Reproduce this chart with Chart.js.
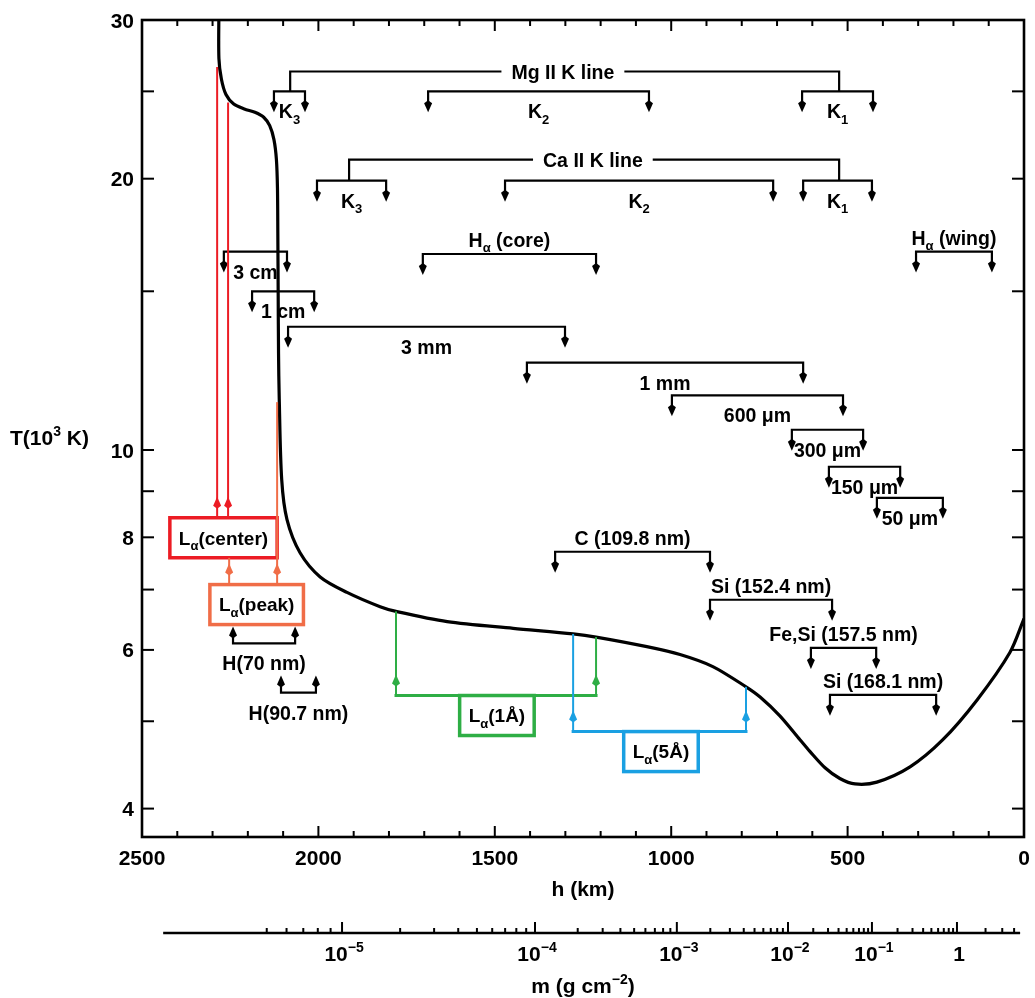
<!DOCTYPE html>
<html>
<head>
<meta charset="utf-8">
<script src="https://cdn.jsdelivr.net/npm/chart.js@4.4.1/dist/chart.umd.min.js"></script>
<style>
html,body{margin:0;padding:0;background:#fff;}
#wrap{width:1035px;height:998px;position:relative;}
</style>
</head>
<body>
<div id="wrap"><canvas id="c" width="1035" height="998"></canvas></div>
<script>
// ---------------- DATA ----------------
// Temperature profile: height h (km) and T (10^3 K)
const heightKm = [2282, 2282, 2275, 2262, 2240, 2210, 2180, 2155, 2138, 2126, 2119, 2116, 2115, 2114, 2113, 2111, 2104, 2089, 2052, 1995, 1919, 1825, 1780, 1635, 1448, 1278, 1213, 1069, 975, 882, 788, 748, 692, 635, 607, 564, 522, 479, 417, 323, 230, 133, 40, 0];
const temperatureKK = [31, 27.2, 25.8, 24.8, 24.2, 23.9, 23.7, 23.4, 22.9, 22.1, 21.0, 19.5, 17.4, 14.9, 12.8, 11.4, 9.27, 8.37, 7.69, 7.23, 6.95, 6.70, 6.62, 6.45, 6.34, 6.25, 6.20, 6.05, 5.93, 5.75, 5.46, 5.32, 5.07, 4.77, 4.63, 4.44, 4.32, 4.26, 4.28, 4.45, 4.77, 5.28, 5.96, 6.5];

// Axis ticks
const hTicks = [2500, 2000, 1500, 1000, 500, 0];
const tTicks = [4, 5, 6, 7, 8, 9, 10, 15, 20, 25, 30];
const tTickLabels = [4, 6, 8, 10, 20, 30];
// Column mass axis: height (km) where m = 10^exp
const mDecadeExp = [-6, -5, -4, -3, -2, -1, 0, 1];
const mDecadeHeight = [2642, 1933, 1386, 984, 669, 431, 190, -79];
const mLabeledExp = [-5, -4, -3, -2, -1, 0];

// Line groups (Mg II K, Ca II K)
const groupNames = ['Mg II K line', 'Ca II K line'];
const groupLeftH = [2080, 1913];
const groupRightH = [524, 524];
const groupLabelH = [1307, 1222];
const groupTopT = [26.3, 21.0];
const groupBaseT = [25.0, 19.9];

// Formation-height brackets (arrows pointing down)
const bracketLabels = ['K_{3}', 'K_{2}', 'K_{1}', 'K_{3}', 'K_{2}', 'K_{1}', 'H_{α} (core)', 'H_{α} (wing)', '3 cm', '1 cm', '3 mm', '1 mm', '600 μm', '300 μm', '150 μm', '50 μm', 'C (109.8 nm)', 'Si (152.4 nm)', 'Fe,Si (157.5 nm)', 'Si (168.1 nm)'];
const bracketH1 = [2126, 1689, 629, 2004, 1471, 626, 1704, 306, 2268, 2188, 2086, 1409, 998, 658, 553, 417, 1329, 890, 604, 550];
const bracketH2 = [2038, 1063, 428, 1808, 711, 431, 1213, 91, 2089, 2012, 1301, 626, 513, 456, 351, 230, 890, 544, 419, 249];
const bracketT = [25.0, 25.0, 25.0, 19.9, 19.9, 19.9, 16.5, 16.6, 16.6, 15.0, 13.7, 12.5, 11.5, 10.53, 9.58, 8.85, 7.71, 6.82, 6.03, 5.35];

// Brackets with arrows pointing up
const upBracketLabels = ['H(70 nm)', 'H(90.7 nm)'];
const upBracketH1 = [2242, 2106];
const upBracketH2 = [2066, 2007];
const upBracketT = [6.10, 5.38];

// Lyman alpha markers
const lyaLabels = ['L_{α}(center)', 'L_{α}(peak)', 'L_{α}(1Å)', 'L_{α}(5Å)'];
const lyaLineH = [[2287, 2256], [2253, 2117], [1780, 1213], [1278, 788]];
const lyaLineTopT = [[26.6, 24.3], [7.59, 11.3], [6.62, 6.20], [6.25, 5.46]];
const lyaBaseT = [8.41, 7.09, 5.34, 4.87];
const lyaBoxH = [2269, 2175, 1494, 1029];

// ---------------- STYLE ----------------
const FONT = '"Liberation Sans", Arial, Helvetica, sans-serif';
const TICK_FS = 21, ANN_FS = 19.5, BOX_FS = 19;
const LYA_COLORS = ['#ec1c24', '#f06d47', '#2eae45', '#1aa0e2'];
const LABEL_ABOVE = new Set(['H_{α} (core)', 'H_{α} (wing)', 'C (109.8 nm)', 'Si (152.4 nm)', 'Fe,Si (157.5 nm)', 'Si (168.1 nm)']);
const M_AXIS_Y = 933, M_AXIS_FROM_H = 2440, M_AXIS_TO_H = 11;

function richParse(s) {
  const segs = []; let buf = ''; let i = 0;
  while (i < s.length) {
    if ((s[i] === '_' || s[i] === '^') && s[i + 1] === '{') {
      if (buf) { segs.push({ t: buf, m: 0 }); buf = ''; }
      const j = s.indexOf('}', i);
      segs.push({ t: s.slice(i + 2, j), m: s[i] === '_' ? 1 : 2 });
      i = j + 1;
    } else { buf += s[i]; i++; }
  }
  if (buf) segs.push({ t: buf, m: 0 });
  return segs;
}
function segFont(size, m) { return 'bold ' + (m ? Math.round(size * 0.68) : size) + 'px ' + FONT; }
function richWidth(ctx, s, size) {
  let w = 0;
  for (const g of richParse(s)) { ctx.font = segFont(size, g.m); w += ctx.measureText(g.t).width; }
  return w;
}
function richText(ctx, s, x, y, size, align) {
  const w = richWidth(ctx, s, size);
  let cx = align === 'left' ? x : (align === 'right' ? x - w : x - w / 2);
  ctx.textAlign = 'left'; ctx.textBaseline = 'alphabetic';
  const base = y + size * 0.36;
  for (const g of richParse(s)) {
    ctx.font = segFont(size, g.m);
    const dy = g.m === 1 ? size * 0.28 : (g.m === 2 ? -size * 0.42 : 0);
    ctx.fillText(g.t, cx, base + dy);
    cx += ctx.measureText(g.t).width;
  }
}
function seg(ctx, x1, y1, x2, y2) { ctx.beginPath(); ctx.moveTo(x1, y1); ctx.lineTo(x2, y2); ctx.stroke(); }
function arrowHead(ctx, x, tipY, dir) { // dir 1: pointing down, -1: pointing up
  ctx.beginPath();
  ctx.moveTo(x, tipY);
  ctx.lineTo(x + 4, tipY - dir * 9);
  ctx.lineTo(x, tipY - dir * 12);
  ctx.lineTo(x - 4, tipY - dir * 9);
  ctx.closePath();
  ctx.fill();
}

const overlayPlugin = {
  id: 'overlay',
  afterDatasetsDraw(chart) {
    const ctx = chart.ctx, a = chart.chartArea, xs = chart.scales.x, ys = chart.scales.y;
    const X = h => xs.getPixelForValue(h), Y = t => ys.getPixelForValue(t);
    ctx.save();
    ctx.lineCap = 'butt'; ctx.lineJoin = 'miter';
    ctx.strokeStyle = '#000'; ctx.fillStyle = '#000';

    // --- groups
    ctx.lineWidth = 2.2;
    groupNames.forEach((name, i) => {
      const xl = X(groupLeftH[i]), xr = X(groupRightH[i]), yt = Y(groupTopT[i]), yb = Y(groupBaseT[i]), xc = X(groupLabelH[i]);
      const w = richWidth(ctx, name, ANN_FS) + 20;
      ctx.beginPath(); ctx.moveTo(xl, yb); ctx.lineTo(xl, yt); ctx.lineTo(xc - w / 2, yt); ctx.stroke();
      ctx.beginPath(); ctx.moveTo(xc + w / 2, yt); ctx.lineTo(xr, yt); ctx.lineTo(xr, yb); ctx.stroke();
      richText(ctx, name, xc, yt, ANN_FS, 'center');
    });

    // --- down brackets
    bracketLabels.forEach((lab, i) => {
      const x1 = X(bracketH1[i]), x2 = X(bracketH2[i]), yb = Y(bracketT[i]);
      ctx.lineWidth = 2.2;
      ctx.beginPath(); ctx.moveTo(x1, yb + 12); ctx.lineTo(x1, yb); ctx.lineTo(x2, yb); ctx.lineTo(x2, yb + 12); ctx.stroke();
      arrowHead(ctx, x1, yb + 21, 1); arrowHead(ctx, x2, yb + 21, 1);
      const yl = LABEL_ABOVE.has(lab) ? yb - 14 : yb + 20;
      richText(ctx, lab, (x1 + x2) / 2, yl, ANN_FS, 'center');
    });

    // --- up brackets
    upBracketLabels.forEach((lab, i) => {
      const x1 = X(upBracketH1[i]), x2 = X(upBracketH2[i]), yb = Y(upBracketT[i]);
      ctx.lineWidth = 2.2;
      ctx.beginPath(); ctx.moveTo(x1, yb - 9); ctx.lineTo(x1, yb); ctx.lineTo(x2, yb); ctx.lineTo(x2, yb - 9); ctx.stroke();
      arrowHead(ctx, x1, yb - 17, -1); arrowHead(ctx, x2, yb - 17, -1);
      richText(ctx, lab, (x1 + x2) / 2, yb + 20, ANN_FS, 'center');
    });

    // --- Lyman alpha markers
    lyaLabels.forEach((lab, i) => {
      const col = LYA_COLORS[i];
      const yb = Y(lyaBaseT[i]);
      const px = lyaLineH[i].map(X);
      ctx.strokeStyle = col; ctx.fillStyle = col;
      ctx.lineWidth = 2;
      px.forEach((p, k) => {
        seg(ctx, p, Y(lyaLineTopT[i][k]), p, yb);
        arrowHead(ctx, p, yb - 21, -1);
      });
      ctx.lineWidth = 3;
      seg(ctx, Math.min(...px) - 1.5, yb, Math.max(...px) + 1.5, yb);
      const xc = X(lyaBoxH[i]);
      const bw = richWidth(ctx, lab, BOX_FS) + 18, bh = 40;
      ctx.fillStyle = '#fff';
      ctx.fillRect(xc - bw / 2, yb, bw, bh);
      ctx.lineWidth = 3.5;
      ctx.strokeRect(xc - bw / 2, yb, bw, bh);
      ctx.fillStyle = '#000';
      richText(ctx, lab, xc, yb + bh / 2, BOX_FS, 'center');
    });

    // --- frame and ticks
    ctx.strokeStyle = '#000'; ctx.fillStyle = '#000';
    ctx.lineWidth = 2.6;
    ctx.strokeRect(a.left, a.top, a.right - a.left, a.bottom - a.top);
    ctx.lineWidth = 2;
    for (let h = 0; h <= 2500; h += 100) {
      const p = X(h), L = (h % 500 === 0) ? 11 : 6;
      seg(ctx, p, a.bottom, p, a.bottom - L);
      seg(ctx, p, a.top, p, a.top + L);
    }
    tTicks.forEach(t => {
      const p = Y(t);
      seg(ctx, a.left, p, a.left + 12, p);
      seg(ctx, a.right, p, a.right - 12, p);
    });
    hTicks.forEach(h => richText(ctx, String(h), X(h), 857, TICK_FS, 'center'));
    tTickLabels.forEach(t => richText(ctx, String(t), 134, Y(t), TICK_FS, 'right'));

    // titles
    richText(ctx, 'T(10^{3} K)', 10, 437, TICK_FS, 'left');
    richText(ctx, 'h (km)', (a.left + a.right) / 2, 888, TICK_FS, 'center');
    richText(ctx, 'm (g cm^{−2})', (a.left + a.right) / 2, 985, TICK_FS, 'center');

    // --- column mass axis
    const mx0 = X(M_AXIS_FROM_H), mx1 = X(M_AXIS_TO_H);
    ctx.lineWidth = 2.4;
    seg(ctx, mx0, M_AXIS_Y, mx1, M_AXIS_Y);
    const hOfLogM = lm => {
      for (let k = 0; k < mDecadeExp.length - 1; k++) {
        if (lm >= mDecadeExp[k] && lm <= mDecadeExp[k + 1]) {
          const f = (lm - mDecadeExp[k]) / (mDecadeExp[k + 1] - mDecadeExp[k]);
          return mDecadeHeight[k] + f * (mDecadeHeight[k + 1] - mDecadeHeight[k]);
        }
      }
      return null;
    };
    ctx.lineWidth = 2;
    for (let e = -6; e <= 0; e++) {
      for (let j = 2; j <= 9; j++) {
        const lm = e + Math.log10(j);
        if (lm < Math.log10(5e-6) || lm > Math.log10(4.5)) continue;
        const p = X(hOfLogM(lm));
        seg(ctx, p, M_AXIS_Y, p, M_AXIS_Y - 5);
      }
    }
    mLabeledExp.forEach(e => {
      const p = X(hOfLogM(e));
      seg(ctx, p, M_AXIS_Y, p, M_AXIS_Y - 11);
      const lab = e === 0 ? '1' : '10^{−' + (-e) + '}';
      richText(ctx, lab, p + 2, 953, TICK_FS, 'center');
    });
    ctx.restore();
  }
};

new Chart(document.getElementById('c'), {
  type: 'line',
  data: {
    datasets: [{
      data: heightKm.map((h, i) => ({ x: h, y: temperatureKK[i] })),
      borderColor: '#000',
      borderWidth: 3.2,
      pointRadius: 0,
      tension: 0.3,
      fill: false
    }]
  },
  options: {
    responsive: false,
    animation: false,
    devicePixelRatio: 1,
    layout: { padding: { left: 142, right: 11, top: 20, bottom: 161 } },
    plugins: { legend: { display: false }, tooltip: { enabled: false }, title: { display: false } },
    scales: {
      x: { type: 'linear', min: 0, max: 2500, reverse: true, bounds: 'data', display: false },
      y: { type: 'logarithmic', min: 3.72, max: 30, bounds: 'data', display: false }
    }
  },
  plugins: [overlayPlugin]
});
</script>
</body>
</html>
